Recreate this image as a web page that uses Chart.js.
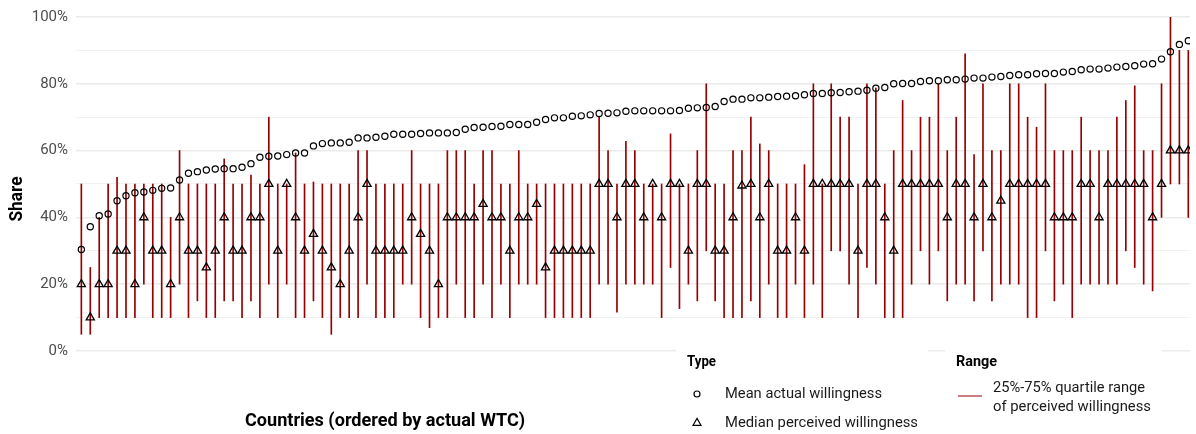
<!DOCTYPE html>
<html>
<head>
<meta charset="utf-8">
<script src="https://cdn.jsdelivr.net/npm/chart.js@4/dist/chart.umd.min.js"></script>
<style>
html, body { margin: 0; padding: 0; background: #fff; }
</style>
</head>
<body>
<canvas id="myChart" width="1196" height="434"></canvas>
<script>
var FONT = "Roboto, 'Liberation Sans', sans-serif";

// countries ordered by mean actual willingness (1..125)
var meanActual = [
    30.4, 37.2, 40.5, 41.0, 45.0, 46.5, 47.4, 47.6, 48.1, 48.7,
    48.8, 51.2, 53.2, 53.7, 54.2, 54.5, 54.6, 54.6, 55.0, 56.1,
    58.0, 58.3, 58.4, 58.8, 59.3, 59.3, 61.4, 62.1, 62.3, 62.3,
    62.5, 63.8, 63.8, 64.0, 64.3, 64.9, 64.9, 64.9, 65.1, 65.3,
    65.3, 65.3, 65.4, 66.4, 66.9, 67.0, 67.2, 67.3, 67.8, 67.8,
    67.8, 68.5, 69.3, 69.8, 69.8, 70.3, 70.4, 70.7, 71.1, 71.2,
    71.3, 71.8, 71.9, 71.9, 71.9, 71.9, 71.9, 72.0, 72.7, 72.8,
    72.9, 73.2, 74.7, 75.4, 75.4, 75.8, 75.8, 76.0, 76.2, 76.3,
    76.4, 76.7, 77.1, 77.1, 77.3, 77.4, 77.6, 77.8, 78.1, 78.7,
    78.9, 80.0, 80.1, 80.1, 80.7, 80.9, 80.9, 81.2, 81.2, 81.4,
    81.7, 81.7, 82.0, 82.2, 82.5, 82.7, 82.7, 83.0, 83.1, 83.1,
    83.5, 83.7, 84.2, 84.4, 84.4, 84.7, 85.0, 85.2, 85.4, 85.9,
    86.0, 87.4, 89.6, 91.8, 92.9
];

var medianPerceived = [
    20, 10, 20, 20, 30, 30, 20, 40, 30, 30,
    20, 40, 30, 30, 25, 30, 40, 30, 30, 40,
    40, 50, 30, 50, 40, 30, 35, 30, 25, 20,
    30, 40, 50, 30, 30, 30, 30, 40, 35, 30,
    20, 40, 40, 40, 40, 44, 40, 40, 30, 40,
    40, 44, 25, 30, 30, 30, 30, 30, 50, 50,
    40, 50, 50, 40, 50, 40, 50, 50, 30, 50,
    50, 30, 30, 40, 49.5, 50, 40, 50, 30, 30,
    40, 30, 50, 50, 50, 50, 50, 30, 50, 50,
    40, 30, 50, 50, 50, 50, 50, 40, 50, 50,
    40, 50, 40, 45, 50, 50, 50, 50, 50, 40,
    40, 40, 50, 50, 40, 50, 50, 50, 50, 50,
    40, 50, 60, 60, 60
];

// 25% and 75% quartiles of perceived willingness
var rangeLow = [
    5, 5, 10, 10, 10, 10, 10, 20, 10, 10,
    10, 20, 10, 15, 10, 10, 15, 15, 10, 15,
    10, 20, 10, 20, 10, 10, 15, 10, 5, 10,
    10, 10, 20, 10, 10, 10, 20, 20, 10, 7,
    10, 10, 20, 10, 10, 20, 10, 20, 10, 20,
    20, 20, 10, 10, 10, 10, 10, 10, 20, 20,
    11.6, 20, 20, 20, 20, 10, 25, 12.7, 20, 15,
    30, 15, 10, 10, 10, 15, 10, 20, 10, 10,
    20, 10, 20, 10, 30, 30, 20, 10, 25, 20,
    10, 10, 10, 20, 30, 20, 30, 15, 20, 20,
    15, 30, 15, 20, 20, 20, 10, 10, 30, 15,
    20, 10, 20, 20, 20, 20, 20, 30, 25, 20,
    18, 40, 50, 50, 40
];

var rangeHigh = [
    50, 25, 40, 50, 52, 50, 50, 50, 50, 50,
    40, 60, 50, 50, 50, 50, 57.5, 50, 50, 52.7,
    50, 70, 50, 50, 59.3, 50, 50.6, 50, 50, 50,
    50, 60, 60, 50, 50, 50, 50, 60, 50, 50,
    50, 60, 60, 60, 50, 60, 60, 50, 50, 60,
    50, 50, 50, 50, 50, 50, 50, 50, 70, 60,
    50, 62.8, 60, 50, 50, 50, 65, 50, 50, 60,
    80, 50, 50, 60, 60, 70, 62, 60, 50, 50,
    50, 55.8, 80, 50, 80, 70, 70, 50, 80, 78.7,
    50, 60, 75, 60, 70, 70, 80, 60, 70, 89,
    58.8, 80, 60, 60, 80, 80, 70, 67, 80, 60,
    60, 60, 70, 60, 60, 60, 70, 75, 79.4, 60,
    60, 80, 100, 90, 90
];

var yTicks = [0, 20, 40, 60, 80, 100];

var RED = '#960000';

var rangeData = [];
var meanData = [];
var medianData = [];
for (var i = 0; i < meanActual.length; i++) {
    rangeData.push({ x: i + 1, y: [rangeLow[i], rangeHigh[i]] });
    meanData.push({ x: i + 1, y: meanActual[i] });
    medianData.push({ x: i + 1, y: medianPerceived[i] });
}

// draw text squeezed/stretched to a given width
function fitText(ctx, text, x, y, w, font, color)
{
    ctx.save();
    ctx.font = font;
    ctx.fillStyle = color;
    ctx.textBaseline = 'middle';
    ctx.textAlign = 'left';
    var m = ctx.measureText(text).width;
    ctx.translate(x, y);
    ctx.scale(w / m, 1);
    ctx.fillText(text, 0, 0);
    ctx.restore();
}

var extras = {
    id: 'extras',
    afterDraw: function(chart) {
        var ctx = chart.ctx;

        // legend backgrounds
        ctx.fillStyle = '#fff';
        ctx.fillRect(676, 340, 252, 94);
        ctx.fillRect(945, 340, 217, 94);

        // axis titles
        ctx.save();
        ctx.translate(17, 199);
        ctx.rotate(-Math.PI / 2);
        fitText(ctx, 'Share', -22.5, 0, 45, 'bold 19px ' + FONT, '#000');
        ctx.restore();
        fitText(ctx, 'Countries (ordered by actual WTC)', 245, 421, 280, 'bold 18px ' + FONT, '#000');

        // legend: Type
        fitText(ctx, 'Type', 687, 362, 29, 'bold 15px ' + FONT, '#000');
        ctx.save();
        ctx.strokeStyle = '#000';
        ctx.lineWidth = 1.2;
        ctx.beginPath();
        ctx.arc(697, 394, 3, 0, Math.PI * 2);
        ctx.stroke();
        var r = 4.6;
        ctx.beginPath();
        ctx.moveTo(697, 423 - r);
        ctx.lineTo(697 + r * Math.sin(Math.PI * 2 / 3), 423 + r / 2);
        ctx.lineTo(697 - r * Math.sin(Math.PI * 2 / 3), 423 + r / 2);
        ctx.closePath();
        ctx.stroke();
        ctx.restore();
        fitText(ctx, 'Mean actual willingness', 725, 394, 157, '15px ' + FONT, '#1a1a1a');
        fitText(ctx, 'Median perceived willingness', 725, 423, 193, '15px ' + FONT, '#1a1a1a');

        // legend: Range
        fitText(ctx, 'Range', 956, 362, 41, 'bold 15px ' + FONT, '#000');
        ctx.save();
        ctx.strokeStyle = RED;
        ctx.lineWidth = 1;
        ctx.beginPath();
        ctx.moveTo(958, 396);
        ctx.lineTo(982, 396);
        ctx.stroke();
        ctx.restore();
        fitText(ctx, '25%-75% quartile range', 993, 388, 152, '15px ' + FONT, '#1a1a1a');
        fitText(ctx, 'of perceived willingness', 993, 407, 158, '15px ' + FONT, '#1a1a1a');
    }
};

var ctx = document.getElementById('myChart').getContext('2d');
var myChart = new Chart(ctx, {
    type: 'bar',
    data: {
        datasets: [{
            label: 'Median perceived willingness',
            type: 'scatter',
            data: medianData,
            pointStyle: 'triangle',
            pointRadius: 4.7,
            pointBorderWidth: 1.3,
            pointBorderColor: '#000',
            pointBackgroundColor: 'rgba(0,0,0,0)',
            order: 1
        }, {
            label: 'Mean actual willingness',
            type: 'scatter',
            data: meanData,
            pointStyle: 'circle',
            pointRadius: 3.1,
            pointBorderWidth: 1.2,
            pointBorderColor: '#000',
            pointBackgroundColor: 'rgba(0,0,0,0)',
            order: 2
        }, {
            label: '25%-75% quartile range of perceived willingness',
            type: 'bar',
            data: rangeData,
            backgroundColor: RED,
            borderWidth: 0,
            barThickness: 1,
            order: 3
        }]
    },
    options: {
        responsive: false,
        animation: false,
        layout: { padding: { top: 15, bottom: 83, left: 0, right: 0 } },
        plugins: {
            legend: { display: false },
            tooltip: { enabled: false }
        },
        scales: {
            x: {
                type: 'linear',
                min: 0.4,
                max: 125.19,
                offset: false,
                display: false
            },
            y: {
                min: 0,
                max: 100,
                afterFit: function(scale) { scale.width = 76; },
                border: { display: false },
                grid: {
                    drawTicks: false,
                    color: function(c) { return c.tick.value % 20 === 0 ? '#ebebeb' : '#f2f2f2'; },
                    lineWidth: function(c) { return c.tick.value % 20 === 0 ? 1.6 : 1.1; }
                },
                ticks: {
                    stepSize: 10,
                    padding: 8,
                    color: '#4d4d4d',
                    font: { family: FONT, size: 15 },
                    callback: function(v) { return yTicks.indexOf(v) >= 0 ? v + '%' : ''; }
                }
            }
        }
    },
    plugins: [extras]
});
</script>
</body>
</html>
